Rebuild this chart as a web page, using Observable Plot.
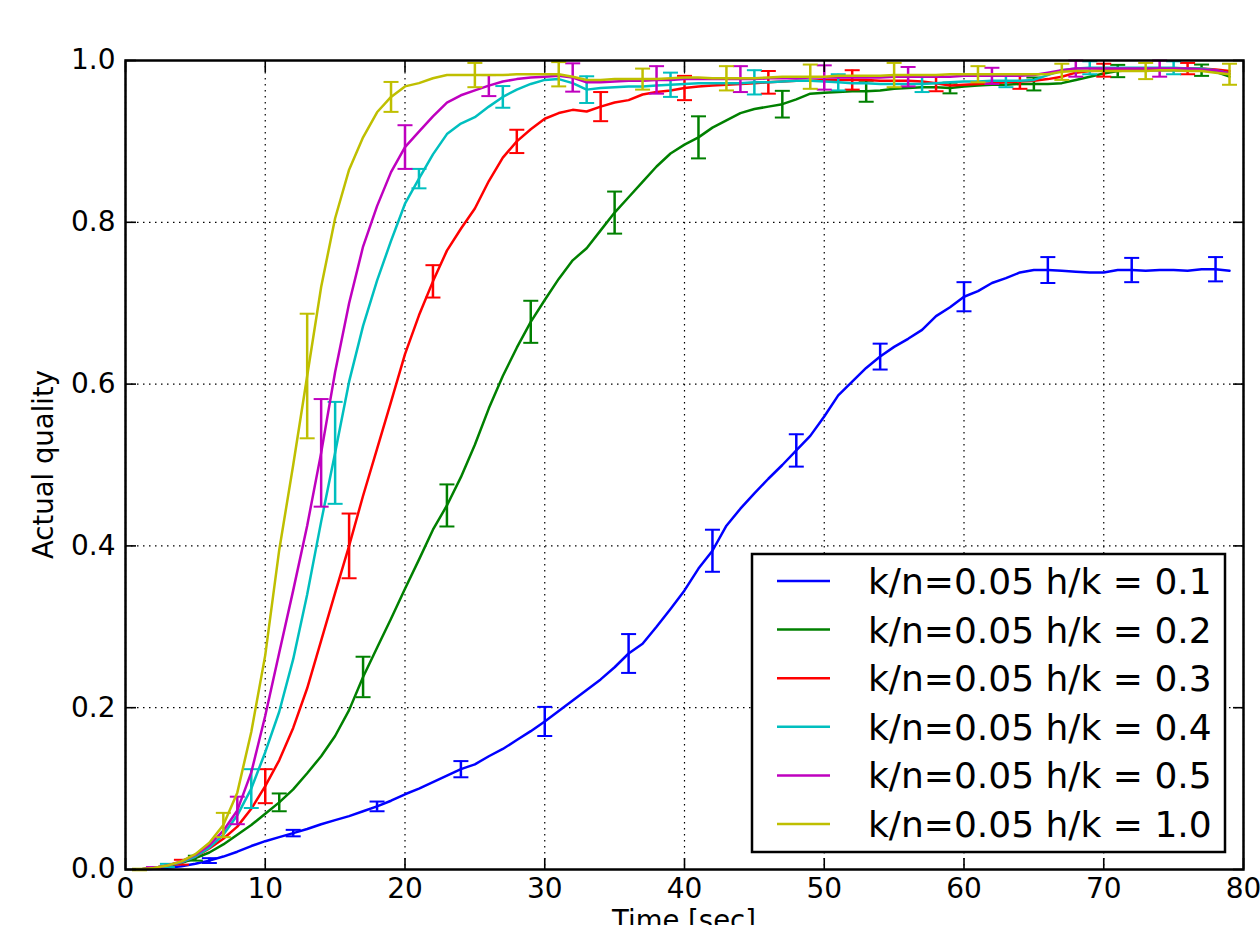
<!DOCTYPE html>
<html>
<head>
<meta charset="utf-8">
<script src="https://cdn.jsdelivr.net/npm/d3@7"></script>
<script src="https://cdn.jsdelivr.net/npm/@observablehq/plot@0.6"></script>
<style>
  html, body { margin: 0; padding: 0; background: #fff; }
  #chart svg { font-family: "DejaVu Sans", sans-serif; display: block; }
</style>
</head>
<body>
<div id="chart"></div>
<script>
// ---- Data ----
const seconds = [1,2,3,4,5,6,7,8,9,10,11,12,13,14,15,16,17,18,19,20,21,22,23,24,25,26,27,28,29,30,31,32,33,34,35,36,37,38,39,40,41,42,43,44,45,46,47,48,49,50,51,52,53,54,55,56,57,58,59,60,61,62,63,64,65,66,67,68,69,70,71,72,73,74,75,76,77,78,79];

const labels = ["k/n=0.05 h/k = 0.1","k/n=0.05 h/k = 0.2","k/n=0.05 h/k = 0.3","k/n=0.05 h/k = 0.4","k/n=0.05 h/k = 0.5","k/n=0.05 h/k = 1.0"];
const colors = ["#0000ff","#008000","#ff0000","#00bfbf","#bf00bf","#bfbf00"];

const hk01 = [0.000,0.001,0.002,0.004,0.007,0.011,0.016,0.022,0.029,0.035,
  0.040,0.045,0.050,0.056,0.061,0.066,0.072,0.078,0.085,0.093,
  0.100,0.108,0.116,0.124,0.130,0.140,0.149,0.160,0.171,0.183,
  0.196,0.209,0.222,0.235,0.250,0.267,0.279,0.300,0.322,0.345,
  0.372,0.394,0.425,0.446,0.465,0.483,0.500,0.518,0.536,0.560,
  0.586,0.603,0.620,0.634,0.646,0.656,0.667,0.684,0.695,0.708,
  0.715,0.725,0.731,0.738,0.741,0.741,0.740,0.739,0.738,0.738,
  0.741,0.741,0.740,0.741,0.741,0.740,0.742,0.742,0.740];
const hk02 = [0.000,0.002,0.004,0.008,0.014,0.021,0.031,0.043,0.055,0.069,
  0.083,0.099,0.119,0.140,0.165,0.197,0.238,0.274,0.310,0.347,
  0.383,0.420,0.450,0.485,0.525,0.570,0.610,0.645,0.677,0.704,
  0.730,0.753,0.768,0.790,0.812,0.831,0.850,0.869,0.885,0.896,
  0.905,0.917,0.926,0.935,0.940,0.943,0.946,0.952,0.959,0.960,
  0.961,0.962,0.962,0.963,0.965,0.966,0.967,0.967,0.966,0.968,
  0.969,0.970,0.970,0.971,0.971,0.971,0.972,0.976,0.980,0.984,
  0.987,0.988,0.988,0.988,0.988,0.988,0.988,0.986,0.980];
const hk03 = [0.000,0.002,0.005,0.009,0.016,0.026,0.038,0.053,0.075,0.103,
  0.135,0.175,0.224,0.283,0.342,0.400,0.462,0.520,0.578,0.637,
  0.685,0.727,0.765,0.792,0.817,0.851,0.880,0.900,0.915,0.928,
  0.935,0.939,0.937,0.943,0.948,0.951,0.958,0.961,0.963,0.966,
  0.968,0.969,0.970,0.971,0.972,0.973,0.974,0.975,0.975,0.976,
  0.976,0.976,0.976,0.975,0.975,0.975,0.974,0.972,0.969,0.970,
  0.971,0.972,0.973,0.974,0.975,0.977,0.980,0.985,0.987,0.988,
  0.989,0.990,0.990,0.990,0.990,0.990,0.990,0.989,0.987];
const hk04 = [0.000,0.002,0.005,0.009,0.016,0.027,0.043,0.067,0.100,0.145,
  0.195,0.260,0.340,0.430,0.515,0.603,0.672,0.728,0.777,0.823,
  0.854,0.884,0.909,0.922,0.930,0.943,0.955,0.964,0.971,0.976,
  0.977,0.972,0.964,0.966,0.967,0.968,0.968,0.969,0.970,0.971,
  0.972,0.972,0.972,0.972,0.973,0.973,0.974,0.975,0.975,0.974,
  0.973,0.972,0.972,0.971,0.971,0.971,0.971,0.972,0.973,0.974,
  0.974,0.975,0.975,0.975,0.976,0.982,0.988,0.990,0.991,0.991,
  0.991,0.991,0.991,0.991,0.991,0.990,0.990,0.988,0.984];
const hk05 = [0.000,0.002,0.005,0.010,0.018,0.030,0.048,0.073,0.120,0.190,
  0.268,0.345,0.425,0.515,0.615,0.700,0.770,0.820,0.862,0.893,
  0.912,0.931,0.948,0.957,0.963,0.969,0.974,0.977,0.979,0.980,
  0.981,0.979,0.973,0.973,0.974,0.975,0.975,0.976,0.976,0.977,
  0.977,0.977,0.977,0.977,0.977,0.978,0.978,0.978,0.979,0.979,
  0.979,0.979,0.979,0.979,0.980,0.980,0.980,0.980,0.980,0.981,
  0.981,0.981,0.981,0.981,0.982,0.985,0.988,0.990,0.990,0.990,
  0.990,0.990,0.990,0.990,0.990,0.990,0.989,0.988,0.984];
const hk10 = [0.000,0.002,0.005,0.010,0.019,0.033,0.055,0.095,0.170,0.265,
  0.395,0.500,0.610,0.720,0.805,0.865,0.905,0.936,0.955,0.968,
  0.972,0.978,0.982,0.982,0.982,0.982,0.982,0.983,0.983,0.983,
  0.983,0.980,0.976,0.976,0.977,0.977,0.977,0.977,0.978,0.979,
  0.979,0.978,0.978,0.978,0.978,0.979,0.980,0.980,0.980,0.980,
  0.981,0.981,0.981,0.981,0.982,0.982,0.982,0.982,0.983,0.983,
  0.983,0.983,0.983,0.983,0.983,0.983,0.986,0.987,0.987,0.987,
  0.987,0.987,0.987,0.988,0.988,0.987,0.987,0.985,0.983];

// error bar positions (seconds) and half-widths
const errT01 = [6,12,18,24,30,36,42,48,54,60,66,72,78];
const errH01 = [0.003,0.004,0.006,0.010,0.018,0.024,0.026,0.020,0.016,0.018,0.016,0.015,0.015];
const errT02 = [5,11,17,23,29,35,41,47,53,59,65,71,77];
const errH02 = [0.003,0.011,0.025,0.026,0.026,0.026,0.026,0.0165,0.013,0.0066,0.008,0.0076,0.007];
const errT03 = [4,10,16,22,28,34,40,46,52,58,64,70,76];
const errH03 = [0.003,0.021,0.040,0.020,0.0144,0.018,0.015,0.014,0.012,0.010,0.009,0.008,0.007];
const errT04 = [3,9,15,21,27,33,39,45,51,57,63,69,75];
const errH04 = [0.002,0.024,0.063,0.012,0.0134,0.0165,0.015,0.015,0.010,0.010,0.008,0.008,0.008];
const errT05 = [2,8,14,20,26,32,38,44,50,56,62,68,74];
const errH05 = [0.001,0.017,0.0665,0.027,0.013,0.0175,0.017,0.016,0.015,0.012,0.010,0.010,0.010];
const errT10 = [1,7,13,19,25,31,37,43,49,55,61,67,73,79];
const errH10 = [0.001,0.015,0.077,0.0185,0.015,0.015,0.013,0.015,0.015,0.015,0.010,0.010,0.010,0.013];

const xTicks = [0,10,20,30,40,50,60,70,80];
const yTicks = [0.0,0.2,0.4,0.6,0.8,1.0];

// ---- Build tables ----
const seriesValues = [hk01,hk02,hk03,hk04,hk05,hk10];
const seriesErrT = [errT01,errT02,errT03,errT04,errT05,errT10];
const seriesErrH = [errH01,errH02,errH03,errH04,errH05,errH10];

const series = labels.map((label, i) => {
  const rows = seconds.map((t, j) => ({t, v: seriesValues[i][j]}));
  const errs = seriesErrT[i].map((t, j) => {
    const v = seriesValues[i][seconds.indexOf(t)];
    const h = seriesErrH[i][j];
    return {t, lo: v - h, hi: v + h};
  });
  return {label, color: colors[i], rows, errs};
});

const cap = { draw(ctx) { ctx.moveTo(-7.5, 0); ctx.lineTo(7.5, 0); } };

const marks = [
  Plot.gridX(xTicks, {stroke: "black", strokeOpacity: 1, strokeWidth: 1.2, strokeDasharray: "1.5,4.5"}),
  Plot.gridY(yTicks, {stroke: "black", strokeOpacity: 1, strokeWidth: 1.2, strokeDasharray: "1.5,4.5"})
];
for (const s of series) {
  marks.push(Plot.line(s.rows, {x: "t", y: "v", stroke: s.color, strokeWidth: 2.5}));
  marks.push(Plot.ruleX(s.errs, {x: "t", y1: "lo", y2: "hi", stroke: s.color, strokeWidth: 2.5}));
  marks.push(Plot.dot(s.errs, {x: "t", y: "lo", symbol: cap, stroke: s.color, fill: "none", strokeWidth: 2}));
  marks.push(Plot.dot(s.errs, {x: "t", y: "hi", symbol: cap, stroke: s.color, fill: "none", strokeWidth: 2}));
}
marks.push(
  // tick labels
  Plot.text(xTicks, {x: d => d, frameAnchor: "bottom", lineAnchor: "top", dy: 9, fontSize: 28, fill: "black", text: d3.format("d")}),
  Plot.text(yTicks, {y: d => d, frameAnchor: "left", textAnchor: "end", dx: -10, fontSize: 28, fill: "black", text: d3.format(".1f")}),
  // inward ticks on all four sides
  Plot.axisX(xTicks, {anchor: "bottom", tickSize: -11, tickFormat: () => "", label: null, strokeWidth: 1.6}),
  Plot.axisX(xTicks, {anchor: "top", tickSize: -11, tickFormat: () => "", label: null, strokeWidth: 1.6}),
  Plot.axisY(yTicks, {anchor: "left", tickSize: -11, tickFormat: () => "", label: null, strokeWidth: 1.6}),
  Plot.axisY(yTicks, {anchor: "right", tickSize: -11, tickFormat: () => "", label: null, strokeWidth: 1.6}),
  Plot.frame({stroke: "black", strokeWidth: 2.5})
);

const W = 1260, H = 925;
const mL = 125, mT = 60, mR = 17, mB = 56;

const chart = Plot.plot({
  width: W,
  height: H,
  marginLeft: mL,
  marginTop: mT,
  marginRight: mR,
  marginBottom: mB,
  x: {domain: [0, 80], axis: null},
  y: {domain: [0, 1], axis: null},
  style: {fontFamily: "DejaVu Sans", background: "white", color: "black"},
  marks
});

const svg = d3.select(chart);

// axis labels (the x label is cut by the bottom edge, as in the reference)
svg.append("text")
  .attr("x", mL + (W - mL - mR) / 2)
  .attr("y", 930)
  .attr("text-anchor", "middle")
  .attr("font-size", 27.5)
  .attr("fill", "black")
  .text("Time [sec]");
svg.append("text")
  .attr("transform", `translate(53,${mT + (H - mT - mB) / 2}) rotate(-90)`)
  .attr("text-anchor", "middle")
  .attr("font-size", 27.5)
  .attr("fill", "black")
  .text("Actual quality");

// legend (lower right, inside the axes)
const plotRight = W - mR, plotBottom = H - mB;
const lgW = 473, lgH = 298;
const lgX = plotRight - 18 - lgW, lgY = plotBottom - 17 - lgH;
const lg = svg.append("g").attr("transform", `translate(${lgX},${lgY})`);
lg.append("rect").attr("width", lgW).attr("height", lgH)
  .attr("fill", "white").attr("stroke", "black").attr("stroke-width", 2.5);
series.forEach((s, i) => {
  const yy = 27 + i * 48.6;
  lg.append("line").attr("x1", 25).attr("x2", 78).attr("y1", yy).attr("y2", yy)
    .attr("stroke", s.color).attr("stroke-width", 2.5);
  lg.append("text").attr("x", 116).attr("y", yy).attr("dy", "0.36em")
    .attr("text-anchor", "start")
    .attr("font-size", 36).attr("fill", "black").text(s.label);
});

document.getElementById("chart").appendChild(chart);
</script>
</body>
</html>
